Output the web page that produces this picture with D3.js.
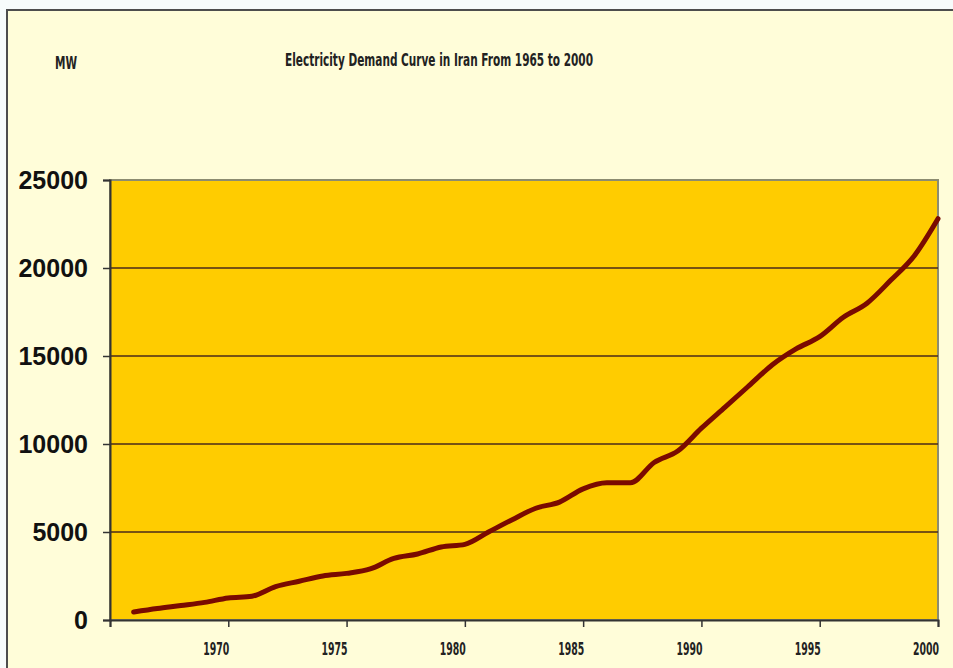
<html>
<head>
<script src="https://d3js.org/d3.v7.min.js"></script>
<style>
  body { margin: 0; background: #fffdd9; overflow: hidden; }
  svg { display: block; }
  .cond { font-family: "DejaVu Sans Condensed", "DejaVu Sans", sans-serif; font-weight: bold; }
</style>
</head>
<body>
<svg id="chart" width="953" height="668"></svg>
<script>
  // demand values (MW), one point per year
  const years = [1966, 1967, 1968, 1969, 1970, 1971, 1972, 1973, 1974, 1975,
                 1976, 1977, 1978, 1979, 1980, 1981, 1982, 1983, 1984, 1985,
                 1986, 1987, 1988, 1989, 1990, 1991, 1992, 1993, 1994, 1995,
                 1996, 1997, 1998, 1999, 2000];
  const demand = [450, 650, 820, 1000, 1250, 1350, 1900, 2200, 2500, 2650,
                  2900, 3500, 3750, 4150, 4300, 5000, 5700, 6350, 6700, 7450,
                  7800, 7800, 8950, 9600, 10900, 12100, 13300, 14500, 15400, 16100,
                  17200, 18000, 19300, 20700, 22800];
  const yTicks = [0, 5000, 10000, 15000, 20000, 25000];
  const xTicks = [1965, 1970, 1975, 1980, 1985, 1990, 1995, 2000];
  const xLabels = [1970, 1975, 1980, 1985, 1990, 1995, 2000];

  const svg = d3.select("#chart");
  const plot = {left: 110, top: 180, right: 938, bottom: 620};

  // page margin and frame (only the top and left edges are in view)
  svg.append("rect")
    .attr("width", 953).attr("height", 668)
    .attr("fill", "#f7fbfb");
  svg.append("rect")
    .attr("x", 7).attr("y", 10)
    .attr("width", 946).attr("height", 658)
    .attr("fill", "#fffdd9");
  svg.append("path")
    .attr("d", "M7,668V10H953")
    .attr("fill", "none")
    .attr("stroke", "#4d4d4d").attr("stroke-width", 2);

  const x = d3.scaleLinear().domain([1965, 2000]).range([plot.left, plot.right]);
  const y = d3.scaleLinear().domain([0, 25000]).range([plot.bottom, plot.top]);

  svg.append("rect")
    .attr("x", plot.left).attr("y", plot.top)
    .attr("width", plot.right - plot.left).attr("height", plot.bottom - plot.top)
    .attr("fill", "#ffcc00")
    .attr("stroke", "#8c8c70").attr("stroke-width", 2);

  // gridlines
  svg.append("g").selectAll("line")
    .data(yTicks.filter(d => d > 0 && d < 25000))
    .join("line")
    .attr("x1", plot.left).attr("x2", plot.right)
    .attr("y1", d => y(d)).attr("y2", d => y(d))
    .attr("stroke", "#4a2a18").attr("stroke-width", 1.5);

  // y axis
  const yAxis = svg.append("g")
    .attr("transform", "translate(" + plot.left + ",0)")
    .call(d3.axisLeft(y).tickValues(yTicks).tickSize(7).tickPadding(15).tickFormat(d3.format("d")));
  yAxis.select(".domain").attr("stroke", "#333").attr("stroke-width", 2);
  yAxis.selectAll(".tick line").attr("stroke", "#333").attr("stroke-width", 1.5);
  yAxis.selectAll("text")
    .attr("font-family", "Liberation Sans, Arial, sans-serif")
    .attr("font-size", 25).attr("font-weight", "bold")
    .attr("fill", "#111");

  // x axis
  const xAxis = svg.append("g")
    .attr("transform", "translate(0," + plot.bottom + ")")
    .call(d3.axisBottom(x).tickValues(xTicks).tickSize(7).tickFormat(""));
  xAxis.select(".domain").attr("stroke", "#333").attr("stroke-width", 2);
  xAxis.selectAll(".tick line").attr("stroke", "#333").attr("stroke-width", 1.5);

  svg.append("g").selectAll("text")
    .data(xLabels)
    .join("text")
    .attr("class", "cond")
    .attr("x", d => x(d) - 12)
    .attr("y", 655)
    .attr("text-anchor", "middle")
    .attr("font-size", 18)
    .attr("textLength", 26).attr("lengthAdjust", "spacingAndGlyphs")
    .attr("fill", "#222")
    .text(d => d);

  // demand line
  const line = d3.line()
    .x((d, i) => x(years[i]))
    .y(d => y(d))
    .curve(d3.curveMonotoneX);

  svg.append("path")
    .datum(demand)
    .attr("d", line)
    .attr("fill", "none")
    .attr("stroke", "#7a0a00")
    .attr("stroke-width", 5)
    .attr("stroke-linecap", "round");

  // titles
  svg.append("text")
    .attr("class", "cond")
    .attr("x", 285).attr("y", 66)
    .attr("font-size", 18)
    .attr("textLength", 308).attr("lengthAdjust", "spacingAndGlyphs")
    .attr("fill", "#222")
    .text("Electricity Demand Curve in Iran From 1965 to 2000");

  svg.append("text")
    .attr("class", "cond")
    .attr("x", 55).attr("y", 69)
    .attr("font-size", 17)
    .attr("textLength", 22).attr("lengthAdjust", "spacingAndGlyphs")
    .attr("fill", "#222")
    .text("MW");
</script>
</body>
</html>
